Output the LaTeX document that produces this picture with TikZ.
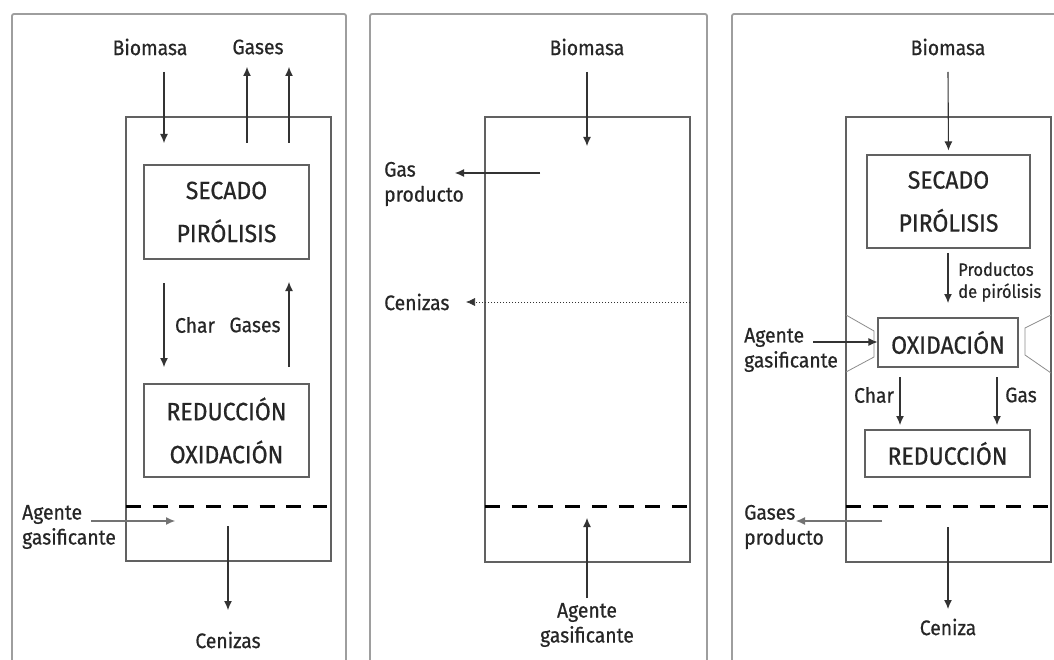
\documentclass[tikz,border=0pt]{standalone}
\usepackage{fontspec}
\setmainfont{Fira Sans}[FakeStretch=0.92, FakeBold=0.6]
\usetikzlibrary{arrows.meta}
\begin{document}
\begin{tikzpicture}[x=1pt,y=-1pt,
  frame/.style={draw=black!38, line width=1.8pt, rounded corners=2pt},
  vessel/.style={draw=black!62, line width=1.1pt},
  stage/.style={draw=black!62, line width=1.1pt, align=center, inner sep=0pt,
    font=\fontsize{25}{43}\selectfont, text=black!85},
  lbl/.style={font=\fontsize{21}{25}\selectfont, text=black!85, inner sep=0pt},
  small/.style={font=\fontsize{18}{22}\selectfont, text=black!85, inner sep=0pt},
  arr/.style={-{Latex[length=9pt,width=8pt]}, line width=1.1pt, draw=black!80},
  grate/.style={draw=black, line width=3pt, dash pattern=on 15pt off 11.7pt},
  wall/.style={draw=black!45, line width=0.8pt}
]
\useasboundingbox (0,0) rectangle (1054,660);
\fill[white] (0,0) rectangle (1054,660);

% ---------- frames ----------
\draw[frame] (12,668) -- (12,14) -- (346,14) -- (346,668);
\draw[frame] (370,668) -- (370,14) -- (707,14) -- (707,668);
\draw[frame] (732,668) -- (732,14) -- (1062,14);

% ================= Panel 1 =================
\draw[vessel] (126,117) rectangle (331,561);
\node[stage, minimum width=165pt, minimum height=94pt] (sec1) at (226.5,212) {SECADO\\PIRÓLISIS};
\node[stage, minimum width=165pt, minimum height=93pt] (red1) at (226.5,430.5) {REDUCCIÓN\\OXIDACIÓN};
\draw[grate] (126,506) -- (327,506);

\node[lbl] (bio1) at (150,47) {Biomasa};
\node[lbl] (gas1) at (258,47) {Gases};
\coordinate (b1s) at (164,72);  \coordinate (b1e) at (164,143);
\draw[arr] (b1s) -- (b1e);
\coordinate (g1as) at (247,143); \coordinate (g1ae) at (247,67);
\coordinate (g1bs) at (289,143); \coordinate (g1be) at (289,67);
\draw[arr] (g1as) -- (g1ae);
\draw[arr] (g1bs) -- (g1be);

\coordinate (c1s) at (164,283); \coordinate (c1e) at (164,367);
\draw[arr] (c1s) -- (c1e);
\coordinate (u1s) at (289,367); \coordinate (u1e) at (289,282);
\draw[arr] (u1s) -- (u1e);
\node[lbl] (char1) at (195,325) {Char};
\node[lbl] (gasesm1) at (255,325) {Gases};

\node[lbl, align=left, anchor=west] (ag1) at (22,527) {Agente\\gasificante};
\coordinate (ag1s) at (91,521); \coordinate (ag1e) at (175,521);
\draw[arr, draw=black!55] (ag1s) -- (ag1e);

\coordinate (ce1s) at (228,526); \coordinate (ce1e) at (228,610);
\draw[arr] (ce1s) -- (ce1e);
\node[lbl] (cen1) at (228,640) {Cenizas};

% ================= Panel 2 =================
\draw[vessel] (485,117) rectangle (690,562);
\draw[grate] (485,506) -- (688,506);
\node[lbl] (bio2) at (587,47) {Biomasa};
\coordinate (b2s) at (587,72); \coordinate (b2e) at (587,146);
\draw[arr] (b2s) -- (b2e);

\node[lbl, align=left, anchor=west] (gp2) at (384,184) {Gas\\producto};
\coordinate (gp2s) at (540,173); \coordinate (gp2e) at (455,173);
\draw[arr] (gp2s) -- (gp2e);

\node[lbl, anchor=west] (cen2) at (384,302) {Cenizas};
\coordinate (ce2s) at (690,302); \coordinate (ce2e) at (466,302);
\draw[arr, line width=0.7pt, dash pattern=on 1.5pt off 1.5pt] (ce2s) -- (ce2e);

\node[lbl, align=center] (ag2) at (587,625) {Agente\\gasificante};
\coordinate (ag2s) at (587,598); \coordinate (ag2e) at (587,518);
\draw[arr] (ag2s) -- (ag2e);

% ================= Panel 3 =================
\draw[vessel] (846,117) rectangle (1051,562);
\draw[wall] (846,315) -- (874,331) -- (874,357) -- (846,372);
\draw[wall] (1051,315) -- (1025,328) -- (1025,355) -- (1051,373);
\node[stage, minimum width=163pt, minimum height=93pt] (sec3) at (948.5,201.5) {SECADO\\PIRÓLISIS};
\node[stage, minimum width=140pt, minimum height=49pt] (ox3) at (948,342.5) {OXIDACIÓN};
\node[stage, minimum width=165pt, minimum height=47pt] (red3) at (947.5,453.5) {REDUCCIÓN};
\draw[grate] (846,506) -- (1051,506);

\node[lbl] (bio3) at (948,47) {Biomasa};
\coordinate (b3s) at (948,72);
\draw[arr, shorten >=4pt] (b3s) -- (sec3.north);

\coordinate (p3s) at (948,253); \coordinate (p3e) at (948,303);
\draw[arr] (p3s) -- (p3e);
\node[small, align=left, anchor=west] (prod3) at (958,282) {Productos\\de pirólisis};

\node[lbl, align=left, anchor=west] (ag3) at (744,350) {Agente\\gasificante};
\coordinate (ag3s) at (813,342);
\draw[arr] (ag3s) -- (ag3s -| ox3.west);

\coordinate (ch3s) at (900,377); \coordinate (ch3e) at (900,425);
\draw[arr] (ch3s) -- (ch3e);
\node[lbl] (char3) at (874,395) {Char};
\coordinate (gs3s) at (997,377); \coordinate (gs3e) at (997,425);
\draw[arr] (gs3s) -- (gs3e);
\node[lbl] (gas3) at (1021,395) {Gas};

\node[lbl, align=left, anchor=west] (gp3) at (744,527) {Gases\\producto};
\coordinate (gp3s) at (882,521); \coordinate (gp3e) at (796,521);
\draw[arr, draw=black!55] (gp3s) -- (gp3e);

\coordinate (ce3s) at (948,527); \coordinate (ce3e) at (948,609);
\draw[arr] (ce3s) -- (ce3e);
\node[lbl] (cen3) at (948,627) {Ceniza};
\end{tikzpicture}
\end{document}
